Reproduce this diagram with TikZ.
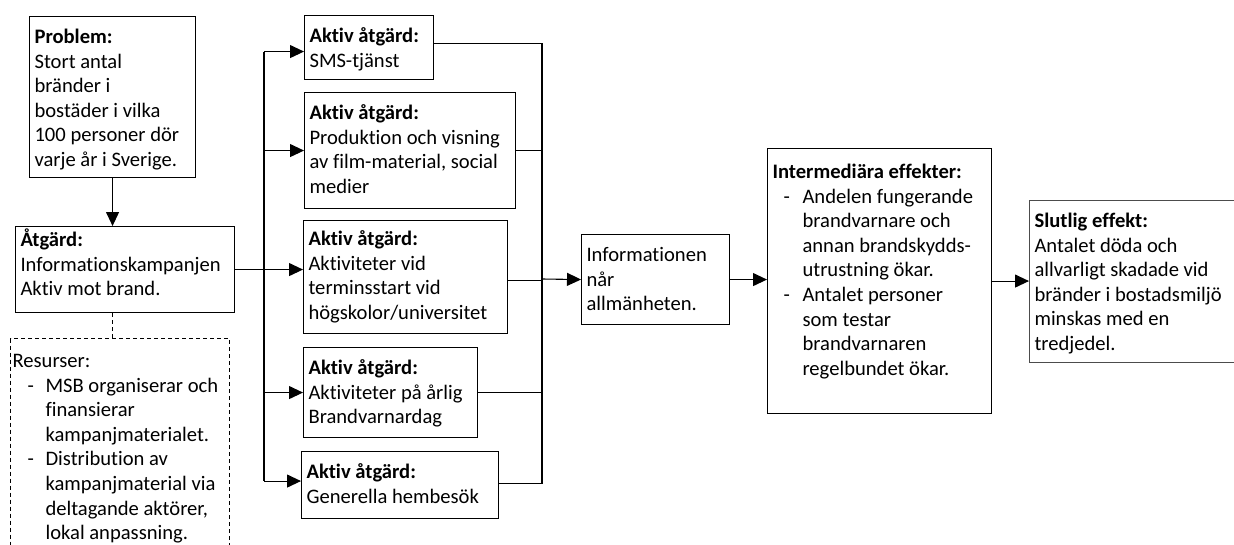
\documentclass[tikz,border=0pt]{standalone}
\usepackage{fontspec}
\setmainfont{Carlito}[Ligatures=NoCommon]
\usetikzlibrary{positioning,arrows.meta}
\newcommand{\interdash}{\makebox[30pt][l]{\hspace{11pt}-}}
\newcommand{\interrest}{\hspace*{30pt}}
\newcommand{\resdash}{\makebox[33pt][l]{\hspace{15pt}-}}
\newcommand{\resrest}{\hspace*{33pt}}

\begin{document}
\begin{tikzpicture}[x=1pt, y=-1pt,
    box/.style={draw, line width=1.1pt, rectangle, anchor=north west, align=flush left,
        inner xsep=5pt, inner ysep=5pt, text height=22pt, font=\fontsize{20.6}{24.6}\selectfont},
    arr/.style={-{Triangle[length=14pt,width=13pt]}, line width=1.1pt},
    conn/.style={line width=1.1pt}]
\clip (0,0) rectangle (1234,544);

    \node [box, text width=156pt, text depth=129pt] (prob) at (29,16)
        {\textbf{Problem:}\\Stort antal\\bränder i\\bostäder i vilka\\100 personer dör\\varje år i Sverige.};
    \node [box, text width=209pt, text height=15pt, text depth=61pt] (atg) at (15,226)
        {\textbf{Åtgärd:}\\Informationskampanjen\\Aktiv mot brand.};
    \node [box, dash pattern=on 4pt off 3pt, inner xsep=2pt, text width=215pt, text height=24pt, text depth=200pt] (res) at (10,338)
        {Resurser:\\\resdash MSB organiserar och\\\resrest finansierar\\\resrest kampanjmaterialet.\\\resdash Distribution av\\\resrest kampanjmaterial via\\\resrest deltagande aktörer,\\\resrest lokal anpassning.};

    \node [box, text width=119pt, text depth=32pt] (sms) at (304,15)
        {\textbf{Aktiv åtgärd:}\\SMS-tjänst};
    \node [box, text width=201pt, text depth=84pt] (film) at (304,92)
        {\textbf{Aktiv åtgärd:}\\Produktion och visning\\av film-material, social\\medier};
    \node [box, text width=194pt, text height=20pt, text depth=83pt] (termin) at (303,220)
        {\textbf{Aktiv åtgärd:}\\Aktiviteter vid\\terminsstart vid\\högskolor/universitet};
    \node [box, text width=164pt, text depth=58pt] (arlig) at (303,347)
        {\textbf{Aktiv åtgärd:}\\Aktiviteter på årlig\\Brandvarnardag};
    \node [box, text width=187pt, text depth=35pt] (hembesok) at (301,451)
        {\textbf{Aktiv åtgärd:}\\Generella hembesök};

    \node [box, text width=138pt, text depth=58pt] (info) at (581,234)
        {Informationen\\når\\allmänheten.};
    \node [box, text width=214pt, text height=25pt, text depth=230pt] (inter) at (767,148)
        {\textbf{Intermediära effekter:}\\\interdash Andelen fungerande\\\interrest brandvarnare och\\\interrest annan brandskydds-\\\interrest utrustning ökar.\\\interdash Antalet personer\\\interrest som testar\\\interrest brandvarnaren\\\interrest regelbundet ökar.};
    \node [box, draw=black!70, text width=240pt, text depth=130pt] (slut) at (1029,200)
        {\textbf{Slutlig effekt:}\\Antalet döda och\\allvarligt skadade vid\\bränder i bostadsmiljö\\minskas med en\\tredjedel.};

    \coordinate (split) at (264,269);
    \coordinate (join) at (542,279);
    \coordinate (smsin) at ([yshift=-4pt]sms.west);
    \coordinate (smsout) at ([yshift=4pt]sms.east);
    \coordinate (hemin) at ([yshift=4pt]hembesok.west);
    \coordinate (hemout) at ([yshift=2pt]hembesok.east);
    \coordinate (terminout) at ([yshift=-3pt]termin.east);

    \draw [arr] (prob.south) -- (prob.south |- atg.north);
    \draw [conn, dash pattern=on 4pt off 3pt] (prob.south |- atg.south) -- (prob.south |- res.north);

    \draw [arr] (atg.east) -- (termin.west |- atg.east);
    \draw [conn] (split |- smsin) -- (split |- hemin);
    \draw [arr] (split |- smsin) -- (smsin);
    \draw [arr] (split |- film.west) -- (film.west);
    \draw [arr] (split |- arlig.west) -- (arlig.west);
    \draw [arr] (split |- hemin) -- (hemin);

    \draw [conn] (smsout) -| (join);
    \draw [conn] (film.east) -| (join);
    \draw [conn] (terminout) -| (join);
    \draw [conn] (arlig.east) -| (join);
    \draw [conn] (hemout) -| (join);
    \draw [arr] (join) -- (info.west);

    \draw [arr] (info.east) -- (info.east -| inter.west);
    \draw [arr] (inter.east) -- (inter.east -| slut.west);

\end{tikzpicture}
\end{document}
